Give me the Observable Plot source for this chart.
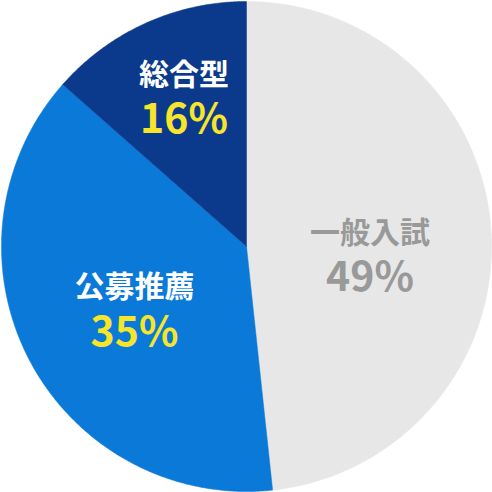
<!DOCTYPE html>
<html><head><meta charset="utf-8">
<script src="https://cdn.jsdelivr.net/npm/d3@7"></script>
<script src="https://cdn.jsdelivr.net/npm/@observablehq/plot@0.6"></script>
<style>html,body{margin:0;padding:0;background:#fff;}</style>
</head><body><div id="chart"></div>
<script>
const categories = ["一般入試", "公募推薦", "総合型"];
const shares = [48.3, 38.2, 13.5];            // angular share as drawn
const percentLabels = ["49%", "35%", "16%"];  // printed labels
const sliceColors = ["#e7e7e7", "#0a79d8", "#0b3a8c"];
const nameColors = ["#999999", "#ffffff", "#ffffff"];
const pctColors = ["#999999", "#f7e52c", "#f7e52c"];
const labelPos = [[0.504, -0.035], [-0.457, -0.257], [-0.255, 0.610]]; // label anchors in unit coords

const pie = d3.pie().sort(null).value(d => d.v)(categories.map((c, i) => ({c, v: shares[i]})));
const pts = [];
for (const a of pie) {
  const n = Math.max(2, Math.ceil((a.endAngle - a.startAngle) * 120));
  pts.push({c: a.data.c, x: 0, y: 0});
  for (let k = 0; k <= n; k++) {
    const t = a.startAngle + (a.endAngle - a.startAngle) * k / n;
    pts.push({c: a.data.c, x: Math.sin(t), y: Math.cos(t)});
  }
  pts.push({c: a.data.c, x: 0, y: 0});
}
const labels = categories.map((c, i) => ({c, name: c, pct: percentLabels[i], x: labelPos[i][0], y: labelPos[i][1], nc: nameColors[i], pc: pctColors[i]}));

const chart = Plot.plot({
  width: 492, height: 492,
  margin: 0,
  x: {domain: [-1.004, 1.004], axis: null},
  y: {domain: [-1.004, 1.004], axis: null},
  color: {domain: categories, range: sliceColors},
  marks: [
    Plot.line(pts, {x: "x", y: "y", z: "c", fill: "c", stroke: "c", strokeWidth: 0.5, curve: "linear"}),
    Plot.text(labels, {x: "x", y: "y", text: "name", fill: d => d.nc, dy: -22, fontSize: 30, fontWeight: "bold", fontFamily: "Noto Sans CJK JP"}),
    Plot.text(labels, {x: "x", y: "y", text: "pct", fill: d => d.pc, dy: 23, fontSize: 41, fontWeight: "bold", fontFamily: "Noto Sans CJK JP"})
  ]
});
document.getElementById("chart").appendChild(chart);
</script></body></html>
